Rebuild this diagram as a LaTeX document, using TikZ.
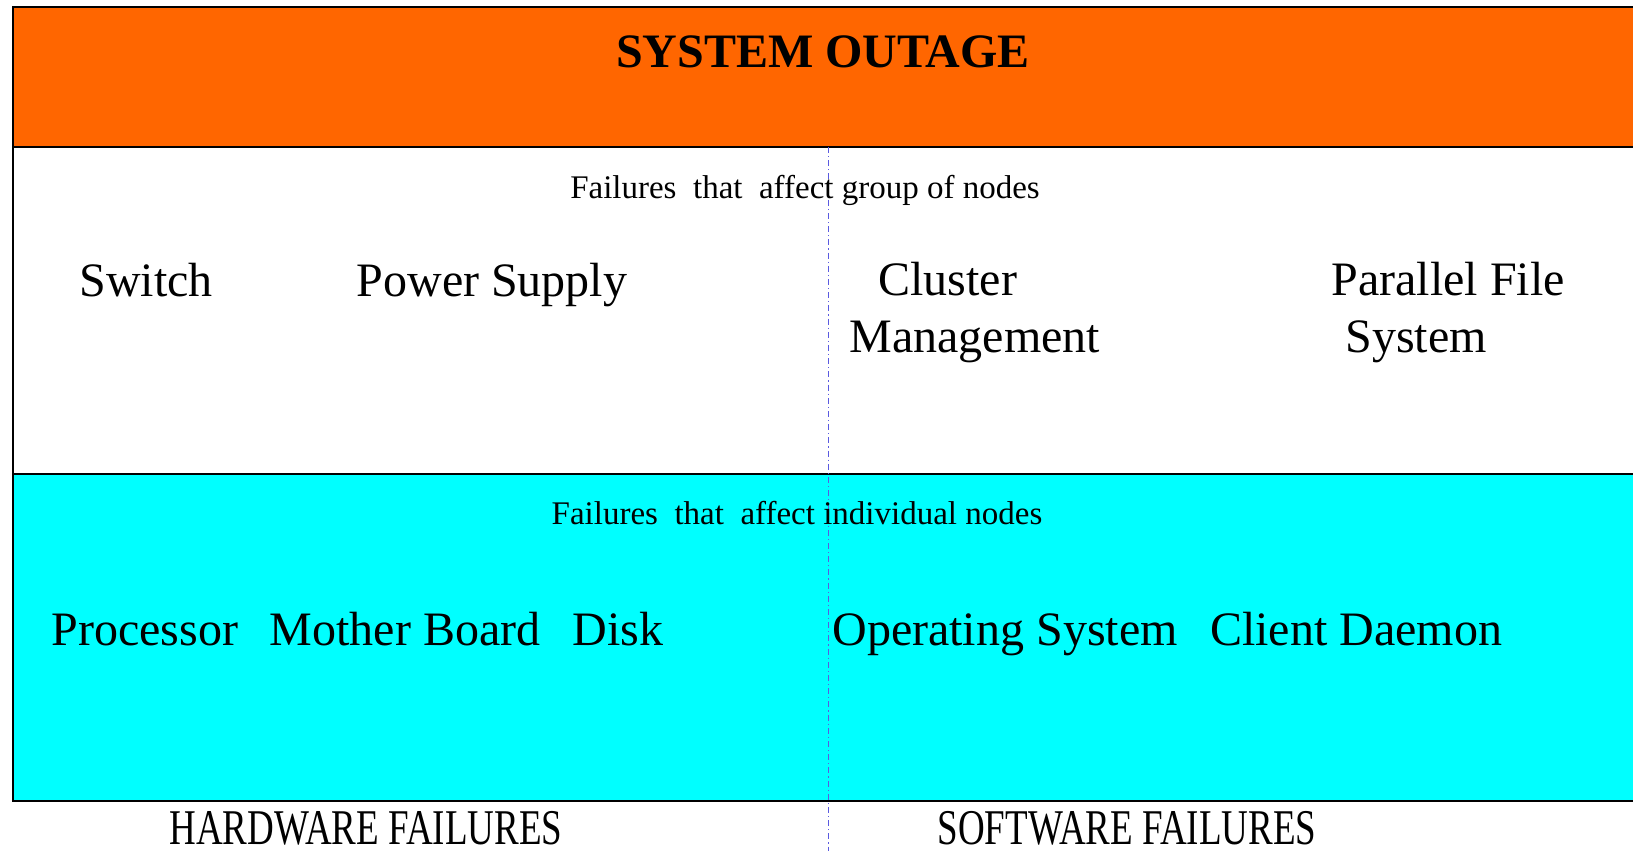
\documentclass[tikz,border=0pt]{standalone}
\usepackage{fontspec}
\setmainfont{Liberation Serif}
\usepackage{xcolor}
\usetikzlibrary{positioning}
\definecolor{outage}{HTML}{FF6600}
\definecolor{nodeband}{HTML}{00FFFF}
\definecolor{divider}{HTML}{5A5AE0}

\begin{document}
\begin{tikzpicture}[x=0.5pt, y=-0.5pt,
  band/.style={draw=black, line width=1pt},
  item/.style={font=\fontsize{24}{28.5}\selectfont, inner sep=0pt, anchor=base},
  caption/.style={font=\fontsize{16.5}{19}\selectfont, inner sep=0pt, anchor=base},
  class/.style={font=\fontsize{25}{30}\selectfont, inner sep=0pt, anchor=base, xscale=0.74}
]
\useasboundingbox (0,0) rectangle (1633,851);

% three horizontal bands, running off the right edge
\fill[outage]   (13,7)   rectangle (1640,147);
\fill[nodeband] (13,474) rectangle (1640,801);
\draw[band] (1640,7) -- (13,7) -- (13,801) -- (1640,801);
\draw[band] (13,147) -- (1640,147);
\draw[band] (13,474) -- (1640,474);

% hardware / software split
\coordinate (split top) at (828,147);
\coordinate (split bot) at (828,851);
\draw[divider, line width=0.4pt, dash pattern=on 3pt off 1.5pt on 0.6pt off 1.5pt] (split top) -- (split bot);

\node[font=\fontsize{24}{28}\selectfont\bfseries, inner sep=0pt, anchor=base] (title) at (823,67) {SYSTEM OUTAGE};

% failures of groups of nodes
\node[caption] (group) at (805,198) {Failures\ \ that\ \ affect\ group\ of\ nodes};
\node[item] (switch) at (146,296) {Switch};
\node[item] (power)  at (492,296) {Power Supply};
\node[item, align=left, anchor=north west] (cms) at (849,262) {\hspace*{14.5pt}Cluster\\Management};
\node[item, align=left, anchor=north west] (pfs) at (1331,262) {Parallel\ File\\\hspace*{7pt}System};

% failures of single nodes
\node[caption] (single) at (797,524) {Failures\ \ that\ \ affect\ individual\ nodes};
\node[item] (cpu)    at (145,645)  {Processor};
\node[item] (board)  at (405,645)  {Mother Board};
\node[item] (disk)   at (618,645)  {Disk};
\node[item] (os)     at (1005,645) {Operating System};
\node[item] (daemon) at (1356,645) {Client Daemon};

\node[class] (hw) at (366,844)  {HARDWARE FAILURES};
\node[class] (sw) at (1127,844) {SOFTWARE FAILURES};
\end{tikzpicture}
\end{document}
